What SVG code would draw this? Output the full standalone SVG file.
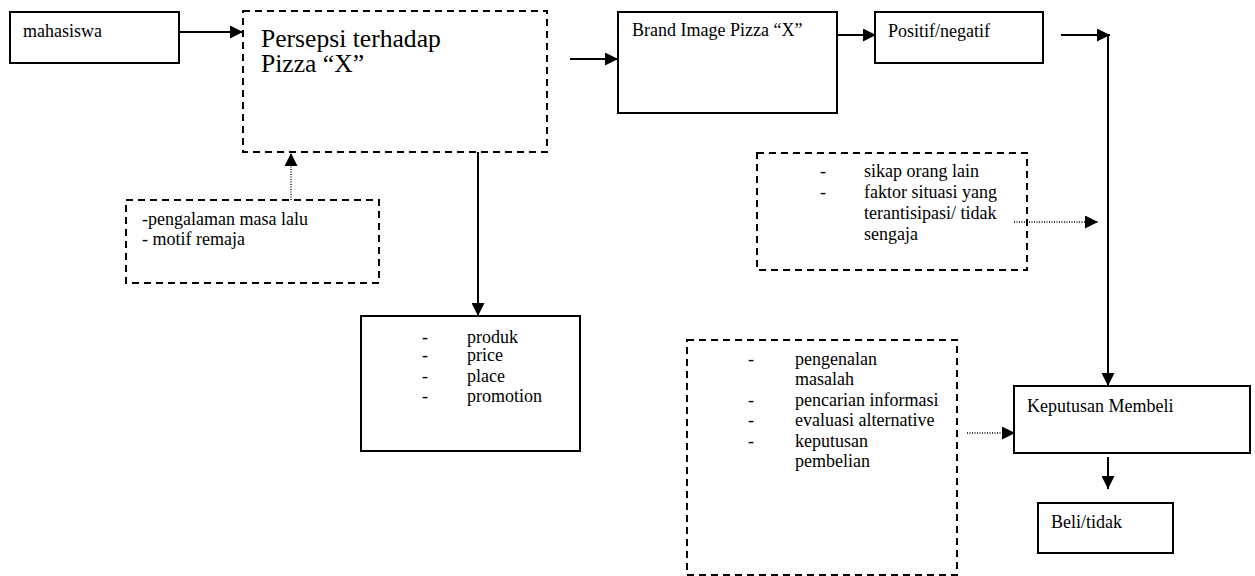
<svg xmlns="http://www.w3.org/2000/svg" width="1255" height="576" viewBox="0 0 1255 576">
<style>
.box{fill:#fff;stroke:#000;stroke-width:2}
.dash{fill:none;stroke:#000;stroke-width:2;stroke-dasharray:7,5}
.t{font-family:"Liberation Serif","Times New Roman",serif;font-size:18px;fill:#000}
.big{font-family:"Liberation Serif","Times New Roman",serif;font-size:25.6px;fill:#000}
.ln{stroke:#000;stroke-width:2;fill:none}
.dot{stroke:#000;stroke-width:1.3;fill:none;stroke-dasharray:1,1.5}
</style>
<defs>
<marker id="ah2" viewBox="0 0 10 10" refX="10" refY="5" markerWidth="15" markerHeight="13" markerUnits="userSpaceOnUse" orient="auto">
<path d="M0,0 L10,5 L0,10 z" fill="#000"/>
</marker>
</defs>
<g id="connectors">
<line class="ln" x1="179" y1="32" x2="243" y2="32" marker-end="url(#ah2)"/>
<line class="ln" x1="570" y1="59" x2="618" y2="59" marker-end="url(#ah2)"/>
<line class="ln" x1="828" y1="35" x2="876" y2="35" marker-end="url(#ah2)"/>
<line class="ln" x1="1061" y1="35" x2="1110" y2="35" marker-end="url(#ah2)"/>
<line class="ln" x1="1108" y1="35" x2="1108" y2="386" marker-end="url(#ah2)"/>
<line class="dot" x1="291" y1="200" x2="291" y2="153" marker-end="url(#ah2)"/>
<line class="ln" x1="478" y1="152" x2="478" y2="316" marker-end="url(#ah2)"/>
<line class="dot" x1="1014" y1="222" x2="1098" y2="222" marker-end="url(#ah2)"/>
<line class="dot" x1="967" y1="433" x2="1015" y2="433" marker-end="url(#ah2)"/>
<line class="ln" x1="1108" y1="457" x2="1108" y2="489" marker-end="url(#ah2)"/>
</g>
<g id="mahasiswa">
<rect class="box" x="10" y="12" width="169" height="51"/>
<text class="t" x="23" y="37">mahasiswa</text>
</g>
<g id="persepsi">
<rect class="dash" x="243" y="11" width="304" height="141"/>
<text class="big" x="261" y="47">Persepsi terhadap</text>
<text class="big" x="261" y="72">Pizza “X”</text>
</g>
<g id="brand-image">
<rect class="box" x="618" y="12" width="219" height="101"/>
<text class="t" x="632" y="36">Brand Image Pizza “X”</text>
</g>
<g id="positif">
<rect class="box" x="875" y="12" width="168" height="51"/>
<text class="t" x="888" y="37">Positif/negatif</text>
</g>
<g id="faktor-situasi">
<rect class="dash" x="757" y="153" width="270" height="117"/>
<text class="t" x="820" y="177">-</text>
<text class="t" x="864" y="177">sikap orang lain</text>
<text class="t" x="820" y="198">-</text>
<text class="t" x="864" y="198"> faktor situasi yang</text>
<text class="t" x="864" y="219">terantisipasi/ tidak</text>
<text class="t" x="864" y="240">sengaja</text>
</g>
<g id="pengalaman">
<rect class="dash" x="126" y="200" width="253" height="83"/>
<text class="t" x="142" y="225">-pengalaman masa lalu</text>
<text class="t" x="142" y="245">- motif remaja</text>
</g>
<g id="marketing-mix">
<rect class="box" x="361" y="316" width="219" height="135"/>
<text class="t" x="422" y="343">-</text>
<text class="t" x="467" y="343">produk</text>
<text class="t" x="422" y="361">-</text>
<text class="t" x="467" y="361">price</text>
<text class="t" x="422" y="382">-</text>
<text class="t" x="467" y="382">place</text>
<text class="t" x="422" y="402">-</text>
<text class="t" x="467" y="402">promotion</text>
</g>
<g id="proses-keputusan">
<rect class="dash" x="687" y="340" width="270" height="235"/>
<text class="t" x="748" y="365">-</text>
<text class="t" x="795" y="365">pengenalan</text>
<text class="t" x="795" y="385">masalah</text>
<text class="t" x="748" y="406">-</text>
<text class="t" x="795" y="406">pencarian informasi</text>
<text class="t" x="748" y="426">-</text>
<text class="t" x="795" y="426">evaluasi alternative</text>
<text class="t" x="748" y="447">-</text>
<text class="t" x="795" y="447">keputusan</text>
<text class="t" x="795" y="467">pembelian</text>
</g>
<g id="keputusan-membeli">
<rect class="box" x="1014" y="386" width="236" height="67"/>
<text class="t" x="1027" y="412">Keputusan Membeli</text>
</g>
<g id="beli-tidak">
<rect class="box" x="1038" y="503" width="135" height="50"/>
<text class="t" x="1051" y="528">Beli/tidak</text>
</g>
</svg>
